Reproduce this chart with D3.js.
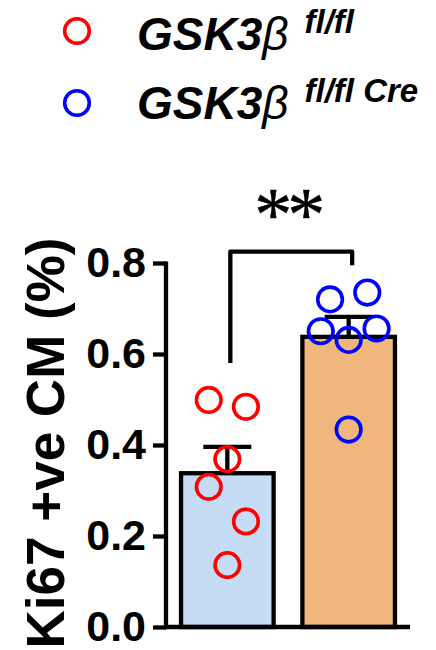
<!DOCTYPE html>
<html>
<head>
<meta charset="utf-8">
<script src="https://cdn.jsdelivr.net/npm/d3@7"></script>
<style>
  html, body { margin: 0; padding: 0; background: #fff; }
  svg { display: block; }
</style>
</head>
<body>
<svg id="chart" width="436" height="650"></svg>
<script>
// ---- data ----
const groups = ["GSK3β fl/fl", "GSK3β fl/fl Cre"];
const groupSuper = ["fl/fl", "fl/fl Cre"];
const ki67Flox = [0.499, 0.484, 0.369, 0.308, 0.232, 0.136];
const ki67Cre = [0.720, 0.735, 0.650, 0.631, 0.656, 0.434];
const yTicks = [0.0, 0.2, 0.4, 0.6, 0.8];
const significance = "**";

// ---- layout / style ----
const fillColors = ["#C6DCF4", "#F0B77D"];
const pointColors = ["#FF0000", "#0000FF"];
// horizontal slot of each point within its column (scatter spread)
const slotsFlox = [-2, 2, 0, -2, 2, 0];
const slotsCre = [-2, 2, -3, 0, 3, 0];
const slotUnit = 9.3;
const font = "'Liberation Sans', Arial, Helvetica, sans-serif";

const series = [ki67Flox, ki67Cre];
const slots = [slotsFlox, slotsCre];
const stats = series.map(v => ({ mean: d3.mean(v), sem: d3.deviation(v) / Math.sqrt(v.length) }));

const svg = d3.select("#chart");

const x = d3.scaleBand().domain(groups).range([166, 410]).paddingInner(0.237).paddingOuter(0.124);
const y = d3.scaleLinear().domain([0, 0.8]).range([627, 263]);

const g = svg.append("g");

// bars
g.selectAll("rect.bar").data(groups).join("rect")
  .attr("class", "bar")
  .attr("x", d => x(d))
  .attr("width", x.bandwidth())
  .attr("y", (d, i) => y(stats[i].mean))
  .attr("height", (d, i) => y(0) - y(stats[i].mean))
  .attr("fill", (d, i) => fillColors[i])
  .attr("stroke", "#000")
  .attr("stroke-width", 4.3);

// error bars (upper SEM only)
const capW = 48;
groups.forEach((grp, i) => {
  const cx = x(grp) + x.bandwidth() / 2;
  const top = y(stats[i].mean + stats[i].sem);
  g.append("line")
    .attr("x1", cx).attr("x2", cx)
    .attr("y1", y(stats[i].mean)).attr("y2", top)
    .attr("stroke", "#000").attr("stroke-width", 4.3);
  g.append("line")
    .attr("x1", cx - capW / 2).attr("x2", cx + capW / 2)
    .attr("y1", top).attr("y2", top)
    .attr("stroke", "#000").attr("stroke-width", 4.3);
});

// y axis
const yAxis = d3.axisLeft(y).tickValues(yTicks).tickFormat(d3.format(".1f")).tickSize(13).tickPadding(7);
const ya = svg.append("g").attr("transform", "translate(166,0)").call(yAxis);
ya.select(".domain").attr("d", `M0,${y(0)}V${y(0.8) - 1.5}`).attr("stroke-width", 4.3);
ya.selectAll(".tick line").attr("stroke-width", 4.3);
ya.selectAll(".tick text")
  .attr("font-family", font).attr("font-weight", "bold").attr("font-size", 43)
  .attr("fill", "#000").attr("dy", "0.32em");

// x axis (baseline only)
const xAxis = d3.axisBottom(x).tickSize(0).tickFormat("");
const xa = svg.append("g").attr("transform", `translate(0,${y(0)})`).call(xAxis);
xa.select(".domain").attr("d", `M${166 - 2},0H410`).attr("stroke-width", 4.5);

// y axis title
svg.append("text")
  .attr("transform", `translate(64,443) rotate(-90)`)
  .attr("text-anchor", "middle")
  .attr("font-family", font).attr("font-weight", "bold").attr("font-size", 53)
  .attr("fill", "#000")
  .text("Ki67 +ve CM (%)");

// significance bracket
const bx1 = x(groups[0]) + x.bandwidth() / 2 + 3;
const bx2 = x(groups[1]) + x.bandwidth() / 2 + 3.5;
svg.append("path")
  .attr("d", `M${bx1},${y(0.58)}V${y(0.825)}H${bx2}V${y(0.795)}`)
  .attr("fill", "none").attr("stroke", "#000").attr("stroke-width", 4.3)
  .attr("stroke-linejoin", "round");
svg.append("text")
  .attr("x", (bx1 + bx2) / 2 - 4).attr("y", 240)
  .attr("text-anchor", "middle")
  .attr("font-family", "'Liberation Serif', 'Times New Roman', serif")
  .attr("font-size", 76)
  .attr("letter-spacing", -5)
  .attr("fill", "#000")
  .attr("stroke", "#000").attr("stroke-width", 0.5)
  .text(significance);

// individual points
series.forEach((vals, i) => {
  const cx = x(groups[i]) + x.bandwidth() / 2;
  svg.append("g").selectAll("circle").data(vals).join("circle")
    .attr("cx", (d, j) => cx + slots[i][j] * slotUnit)
    .attr("cy", d => y(d))
    .attr("r", 12.3)
    .attr("fill", "none")
    .attr("stroke", pointColors[i])
    .attr("stroke-width", 3.6);
});

// legend
const legendRows = [{ cy: 31, base: 50 }, { cy: 103, base: 119 }];
groups.forEach((grp, i) => {
  const row = legendRows[i];
  svg.append("circle")
    .attr("cx", 77).attr("cy", row.cy).attr("r", 12.3)
    .attr("fill", "none").attr("stroke", pointColors[i]).attr("stroke-width", 3.6);
  const t = svg.append("text")
    .attr("x", 137).attr("y", row.base)
    .attr("font-family", font).attr("font-style", "italic").attr("fill", "#000");
  t.append("tspan").attr("font-weight", "bold").attr("font-size", 46).text("GSK3");
  t.append("tspan").attr("font-weight", "normal").attr("font-size", 46).text("β");
  t.append("tspan").attr("font-weight", "bold").attr("font-size", 33)
    .attr("dx", 16).attr("dy", -17).text(groupSuper[i]);
});
</script>
</body>
</html>
